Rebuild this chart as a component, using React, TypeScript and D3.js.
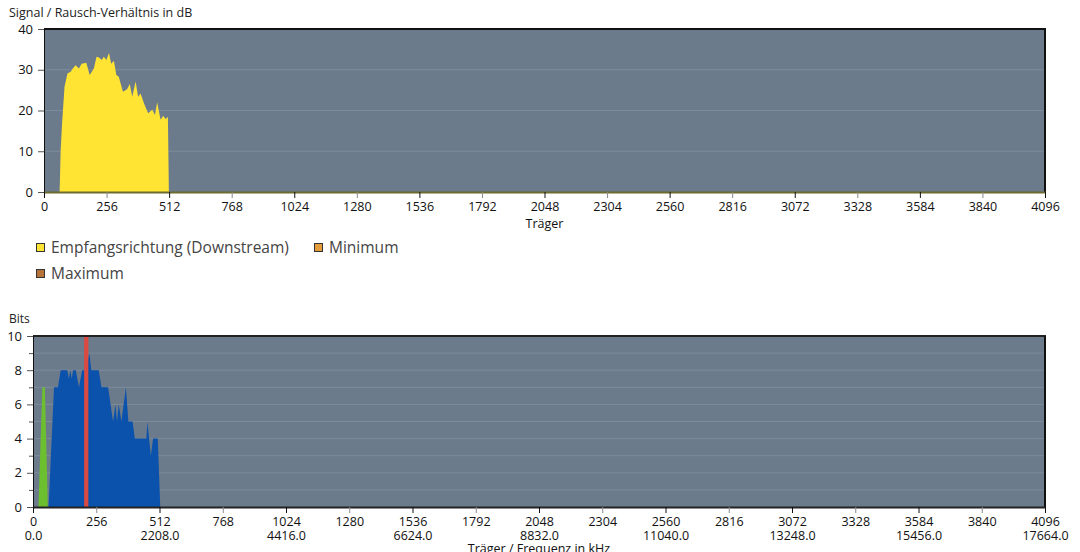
import React, { useRef, useEffect } from 'react';
import * as d3 from 'd3';

// SNR per carrier (dB), downstream
const snrCarriers = [64, 68, 74, 84, 96, 109, 118, 129, 143, 154, 173, 187, 204, 215, 225, 236, 245, 255, 266, 275, 286, 296, 306, 323, 340, 351, 361, 375, 385, 395, 409, 426, 443, 454, 463, 477, 488, 497, 507, 511];
const snrValues = [0, 10, 16.9, 25.8, 29.1, 29.5, 30.3, 31.1, 30.3, 31.5, 31.7, 28.7, 30.3, 33.2, 33.0, 32.4, 33.2, 32.4, 34.1, 31.5, 32.2, 28.7, 28.3, 24.6, 25.2, 26.5, 23.4, 27.1, 23.4, 24.2, 21.8, 19.3, 20.2, 18.9, 22.0, 17.7, 18.7, 17.9, 18.4, 0];

// bits per carrier, downstream (blue)
const bitsCarriers = [63, 85, 101, 112, 139, 145, 151, 157, 162, 173, 186, 199, 207, 214, 228, 236, 266, 277, 304, 324, 334, 340, 347, 358, 376, 386, 403, 412, 459, 463, 477, 486, 505, 515];
const bitsValues = [0, 7, 7, 8, 8, 7.5, 8, 7.5, 8, 8, 7, 8, 8, 8, 9, 8, 8, 7, 7, 5, 6, 5, 6, 5, 7, 5, 5, 4, 4, 5, 3, 4, 4, 0];

// bits per carrier, upstream (green)
const upCarriers = [22, 38, 48, 60];
const upValues = [0, 7, 7, 0];

// pilot marker (red)
const pilotRange = [207, 224];

const xTicks = d3.range(0, 4097, 256);
const freqPerCarrier = 4.3125;

const legendItems = [
  { label: 'Empfangsrichtung (Downstream)', color: '#ffe433', col: 0, row: 0 },
  { label: 'Minimum', color: '#e39b3c', col: 1, row: 0 },
  { label: 'Maximum', color: '#b5733a', col: 0, row: 1 },
];

const FONT = '"Open Sans", "Noto Sans", sans-serif';
const BG = '#6b7b8b';
const GRID = '#7d8c9b';

const App: React.FC = () => {
  const svgRef = useRef<SVGSVGElement | null>(null);

  useEffect(() => {
    const svg = d3.select(svgRef.current);
    svg.selectAll('*').remove();
    svg.attr('font-family', FONT);

    // ---------- top chart: SNR ----------
    const t = { left: 44, right: 1045, top: 29, bottom: 192 };
    const x1 = d3.scaleLinear().domain([0, 4096]).range([t.left, t.right]);
    const y1 = d3.scaleLinear().domain([0, 40]).range([t.bottom, t.top]);

    svg.append('text').attr('x', 9).attr('y', 17).attr('font-size', 12.5).attr('fill', '#222')
      .text('Signal / Rausch-Verhältnis in dB');

    svg.append('rect').attr('x', t.left).attr('y', t.top)
      .attr('width', t.right - t.left).attr('height', t.bottom - t.top).attr('fill', BG);

    svg.append('g').selectAll('line').data([10, 20, 30]).join('line')
      .attr('x1', t.left).attr('x2', t.right)
      .attr('y1', d => y1(d)).attr('y2', d => y1(d))
      .attr('stroke', GRID).attr('stroke-width', 1);

    const snr = snrCarriers.map((c, i) => ({ c, v: snrValues[i] }));
    const area1 = d3.area<{ c: number; v: number }>()
      .x(d => x1(d.c)).y0(y1(0)).y1(d => y1(d.v));
    svg.append('path').datum(snr).attr('d', area1).attr('fill', '#ffe433');

    // border top / right
    svg.append('line').attr('x1', t.left).attr('x2', t.right + 1).attr('y1', t.top).attr('y2', t.top)
      .attr('stroke', '#111').attr('stroke-width', 2);
    svg.append('line').attr('x1', t.right).attr('x2', t.right).attr('y1', t.top).attr('y2', t.bottom)
      .attr('stroke', '#111').attr('stroke-width', 2);

    // y axis
    const yAx1 = svg.append('g').attr('transform', `translate(${t.left},0)`)
      .call(d3.axisLeft(y1).tickValues([0, 10, 20, 30, 40]).tickSize(6).tickPadding(5));
    yAx1.select('.domain').attr('stroke', '#111');
    yAx1.selectAll('.tick line').attr('stroke', '#555');
    yAx1.selectAll('text').attr('font-size', 13).attr('font-family', FONT).attr('fill', '#111');

    // x axis
    const xAx1 = svg.append('g').attr('transform', `translate(0,${t.bottom})`)
      .call(d3.axisBottom(x1).tickValues(xTicks).tickFormat(d3.format('d')).tickSize(6).tickPadding(4).tickSizeOuter(0));
    xAx1.select('.domain').attr('stroke', '#6d6b2e').attr('stroke-width', 2);
    xAx1.selectAll<SVGLineElement, number>('.tick line').attr('stroke', d => (d % 512 === 0 ? '#111' : '#888'));
    xAx1.selectAll('text').attr('font-size', 12.5).attr('font-family', FONT).attr('fill', '#111');

    svg.append('text').attr('x', (t.left + t.right) / 2).attr('y', 228).attr('text-anchor', 'middle')
      .attr('font-size', 12.5).attr('fill', '#111').text('Träger');

    // legend
    const legend = svg.append('g');
    legendItems.forEach(item => {
      const lx = item.col === 0 ? 36 : 314;
      const ly = 243 + item.row * 26;
      legend.append('rect').attr('x', lx + 0.5).attr('y', ly + 0.5).attr('width', 8).attr('height', 8)
        .attr('fill', item.color).attr('stroke', '#333').attr('stroke-width', 1);
      legend.append('text').attr('x', lx + 15).attr('y', ly + 10).attr('font-size', 15.5).attr('fill', '#444')
        .text(item.label);
    });

    // ---------- bottom chart: bits ----------
    const b = { left: 33, right: 1045, top: 336, bottom: 507 };
    const x2 = d3.scaleLinear().domain([0, 4096]).range([b.left, b.right]);
    const y2 = d3.scaleLinear().domain([0, 10]).range([b.bottom, b.top]);

    svg.append('text').attr('x', 9).attr('y', 323).attr('font-size', 12).attr('fill', '#222').text('Bits');

    svg.append('rect').attr('x', b.left).attr('y', b.top)
      .attr('width', b.right - b.left).attr('height', b.bottom - b.top).attr('fill', BG);

    svg.append('g').selectAll('line').data(d3.range(1, 10)).join('line')
      .attr('x1', b.left).attr('x2', b.right)
      .attr('y1', d => y2(d)).attr('y2', d => y2(d))
      .attr('stroke', GRID).attr('stroke-width', 1);

    const area2 = d3.area<{ c: number; v: number }>()
      .x(d => x2(d.c)).y0(y2(0)).y1(d => y2(d.v));
    svg.append('path').datum(upCarriers.map((c, i) => ({ c, v: upValues[i] })))
      .attr('d', area2).attr('fill', '#6cbf2e');
    svg.append('path').datum(bitsCarriers.map((c, i) => ({ c, v: bitsValues[i] })))
      .attr('d', area2).attr('fill', '#0b52ad');
    svg.append('rect').attr('x', x2(pilotRange[0])).attr('y', y2(10))
      .attr('width', x2(pilotRange[1]) - x2(pilotRange[0])).attr('height', y2(0) - y2(10))
      .attr('fill', '#db4a40');

    svg.append('line').attr('x1', b.left).attr('x2', b.right + 1).attr('y1', b.top).attr('y2', b.top)
      .attr('stroke', '#222').attr('stroke-width', 2);
    svg.append('line').attr('x1', b.right).attr('x2', b.right).attr('y1', b.top).attr('y2', b.bottom)
      .attr('stroke', '#111').attr('stroke-width', 2);

    const yAx2 = svg.append('g').attr('transform', `translate(${b.left},0)`)
      .call(d3.axisLeft(y2).tickValues(d3.range(0, 11)).tickSize(6).tickPadding(5)
        .tickFormat(d => ((d as number) % 2 === 0 ? String(d) : '')));
    yAx2.select('.domain').attr('stroke', '#111');
    yAx2.selectAll<SVGLineElement, number>('.tick line')
      .attr('x2', d => (d % 2 === 0 ? -6 : -4)).attr('stroke', '#555');
    yAx2.selectAll('text').attr('font-size', 13).attr('font-family', FONT).attr('fill', '#111');

    const xAx2 = svg.append('g').attr('transform', `translate(0,${b.bottom})`)
      .call(d3.axisBottom(x2).tickValues(xTicks).tickFormat(d3.format('d')).tickSize(6).tickPadding(4).tickSizeOuter(0));
    xAx2.select('.domain').attr('stroke', '#222').attr('stroke-width', 2);
    xAx2.selectAll<SVGLineElement, number>('.tick line').attr('stroke', d => (d % 512 === 0 ? '#111' : '#888'));
    xAx2.selectAll('text').attr('font-size', 12.5).attr('font-family', FONT).attr('fill', '#111');
    xAx2.selectAll<SVGGElement, number>('.tick').filter(d => d % 512 === 0)
      .append('text').attr('y', 33).attr('font-size', 12.5).attr('fill', '#111')
      .attr('text-anchor', 'middle').attr('font-family', FONT)
      .text(d => (d * freqPerCarrier).toFixed(1));

    svg.append('text').attr('x', (b.left + b.right) / 2).attr('y', 553).attr('text-anchor', 'middle')
      .attr('font-size', 12.5).attr('fill', '#111').text('Träger / Frequenz in kHz');
  }, []);

  return (
    <svg ref={svgRef} width={1080} height={552}
      style={{ position: 'absolute', left: 0, top: 0, background: '#fff' }} />
  );
};

export default App;
